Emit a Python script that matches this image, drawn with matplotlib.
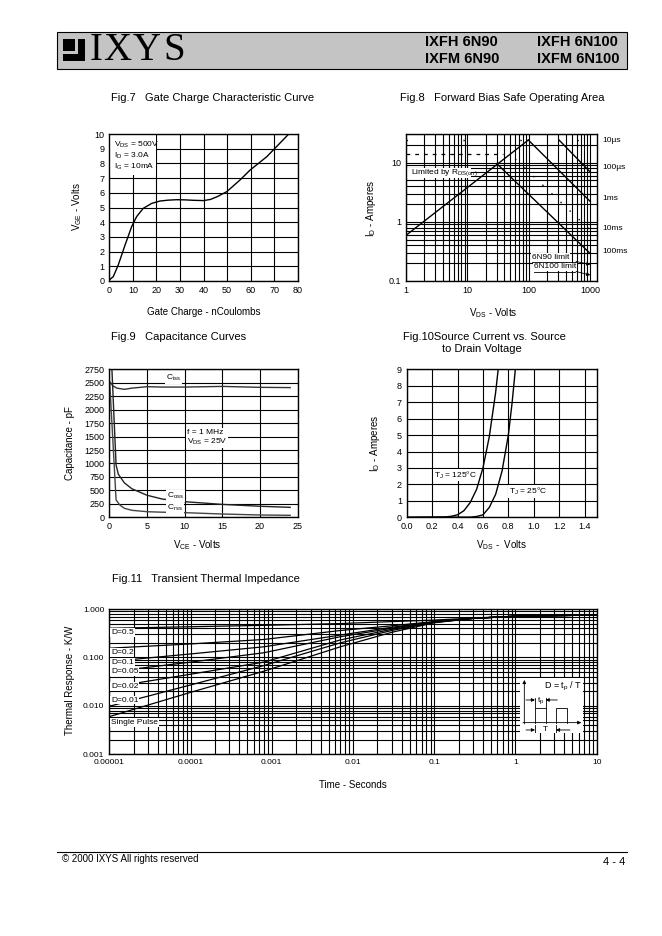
import matplotlib
matplotlib.use("Agg")
import matplotlib.pyplot as plt
import numpy as np
from matplotlib.lines import Line2D
from matplotlib.patches import Rectangle
from matplotlib.ticker import LogLocator, NullFormatter

W, H = 662, 936

plt.rcParams["font.family"] = ["Liberation Sans", "DejaVu Sans"]
plt.rcParams["mathtext.default"] = "regular"

# Fig.7 gate charge
qg_nc = [0, 1.7, 3.8, 6.7, 9.5, 11.6, 14.4, 18, 21.5, 25, 28.6, 32, 35.7, 40,
         43, 46, 49.9, 55.5, 59.8, 66.9, 76.2]
vge_v = [0.07, 0.3, 1.09, 2.45, 3.7, 4.38, 4.94, 5.28, 5.44, 5.5, 5.53, 5.52,
         5.49, 5.47, 5.55, 5.75, 6.08, 6.87, 7.55, 8.46, 10.0]

# Fig.8 safe operating area (V, A)
rds_v, rds_a = [1, 98], [0.59, 24]
lim_10us_v, lim_10us_a = [1, 1000], [24.5, 24.5]
lim_cont_v, lim_cont_a = [1, 38], [14.2, 14.2]
lim_100us_v, lim_100us_a = [310, 1000], [24, 6.9]
lim_1ms_v, lim_1ms_a = [98, 1000], [24, 2.2]
lim_10ms_v, lim_10ms_a = [60, 1000], [11.5, 0.72]
lim_100ms_v, lim_100ms_a = [30, 1000], [9.6, 0.29]
soa_labels = ["10µs", "100µs", "1ms", "10ms", "100ms"]

# Fig.9 capacitance (V, pF)
ciss_v = [0.05, 0.5, 1, 2, 3, 5, 7, 10, 15, 20, 24]
ciss_pf = [2520, 2440, 2400, 2378, 2400, 2427, 2420, 2420, 2432, 2415, 2410]
coss_v = [0.3, 0.9, 1.2, 2, 3, 5, 7, 10, 15, 20, 24]
coss_pf = [2900, 970, 800, 640, 530, 410, 340, 290, 240, 205, 185]
crss_v = [0.05, 0.9, 1.4, 2, 3, 5, 7, 10, 15, 20, 24]
crss_pf = [2520, 322, 228, 167, 130, 104, 95, 86, 61, 43, 37]

# Fig.10 source current vs source-drain voltage
vsd_125 = [0.0, 0.3, 0.35, 0.4, 0.45, 0.5, 0.55, 0.6, 0.65, 0.7, 0.72]
is_125 = [0.0, 0.02, 0.06, 0.15, 0.4, 0.9, 1.7, 3.0, 4.9, 7.6, 9.0]
vsd_25 = [0.0, 0.5, 0.55, 0.6, 0.65, 0.7, 0.75, 0.8, 0.83, 0.855]
is_25 = [0.0, 0.01, 0.05, 0.15, 0.6, 1.4, 2.8, 5.0, 7.0, 9.0]

# Fig.11 transient thermal impedance
t_s = [1e-5, 1e-4, 8e-4, 7e-3, 3e-2, 0.1, 0.3, 1, 10]
zth = {
    "D=0.5": [0.40, 0.43, 0.46, 0.50, 0.55, 0.59, 0.65, 0.71, 0.75],
    "D=0.2": [0.155, 0.19, 0.235, 0.36, 0.45, 0.55, 0.64, 0.71, 0.75],
    "D=0.1": [0.082, 0.118, 0.166, 0.29, 0.42, 0.54, 0.64, 0.71, 0.75],
    "D=0.05": [0.05, 0.08, 0.125, 0.268, 0.40, 0.54, 0.64, 0.71, 0.75],
    "D=0.02": [0.024, 0.045, 0.08, 0.23, 0.38, 0.53, 0.64, 0.71, 0.75],
    "D=0.01": [0.0098, 0.027, 0.068, 0.20, 0.36, 0.53, 0.64, 0.71, 0.75],
    "Single Pulse": [0.006, 0.019, 0.052, 0.166, 0.33, 0.52, 0.64, 0.71, 0.75],
}

fig = plt.figure(figsize=(W / 100, H / 100), dpi=100)


def box(left, top, right, bottom):
    return [left / W, 1 - bottom / H, (right - left) / W, (bottom - top) / H]


def ftext(px, py, s, size=7, ha="left", va="center", white=False, **kw):
    if white:
        kw["bbox"] = dict(fc="white", ec="none", pad=0.6)
    return fig.text(px / W, 1 - py / H, s, fontsize=size, ha=ha, va=va,
                    zorder=5, **kw)


def style(ax, size=6.5):
    ax.tick_params(which="both", length=0, labelsize=size, pad=3.5)
    ax.grid(True, which="both", color="black", lw=0.8)
    ax.set_axisbelow(True)
    for s in ax.spines.values():
        s.set_linewidth(1.0)


def logminor(axis):
    axis.set_minor_locator(LogLocator(base=10, subs=np.arange(2, 10), numticks=100))
    axis.set_minor_formatter(NullFormatter())


# header
fig.add_artist(Rectangle((57 / W, 1 - 69 / H), 570 / W, 37 / H,
                         transform=fig.transFigure, fc="#c4c4c4", ec="black", lw=0.8))
ix, iy, isz = 63, 39, 22
for u0, v0, u1, v1 in [(0, 0, 0.55, 0.55), (0.68, 0, 1, 1), (0, 0.68, 1, 1)]:
    fig.add_artist(Rectangle(((ix + u0 * isz) / W, 1 - (iy + v1 * isz) / H),
                             (u1 - u0) * isz / W, (v1 - v0) * isz / H,
                             transform=fig.transFigure, fc="black", ec="none"))
for px, letter in [(90, "I"), (103, "X"), (133, "Y"), (163, "S")]:
    ftext(px, 51, letter, size=28, family="Liberation Serif")
for px, name in [(425, "IXFH 6N90"), (537, "IXFH 6N100")]:
    ftext(px, 42, name, size=10.5, weight="bold")
for px, name in [(425, "IXFM 6N90"), (537, "IXFM 6N100")]:
    ftext(px, 59, name, size=10.5, weight="bold")

# Fig.7
ax7 = fig.add_axes(box(109.3, 134, 297.7, 281))
ax7.plot(qg_nc, vge_v, color="black", lw=1)
ax7.set_xlim(0, 80)
ax7.set_ylim(0, 10)
ax7.set_xticks(range(0, 81, 10))
ax7.set_yticks(range(0, 11))
style(ax7)
ax7.add_patch(Rectangle((0.005, 0.72), 0.245, 0.272, transform=ax7.transAxes,
                        fc="white", ec="none", zorder=1.5))
ftext(114, 145, "V$_{DS}$ = 500V", size=6)
ftext(114, 156, "I$_D$ = 3.0A", size=6)
ftext(114, 166.7, "I$_G$ = 10mA", size=6)
ftext(111, 98, "Fig.7   Gate Charge Characteristic Curve", size=8)
ftext(204, 312, "Gate Charge - nCoulombs", size=7, ha="center")
ftext(77, 207, "V$_{GE}$ - Volts", size=7, ha="center", rotation=90)

# Fig.8
ax8 = fig.add_axes(box(406, 134.3, 597.3, 281))
ax8.set_xscale("log")
ax8.set_yscale("log")
ax8.plot(rds_v, rds_a, color="black", lw=1)
ax8.plot(lim_10us_v, lim_10us_a, color="black", lw=1, ls=(0, (1, 40)))
ax8.plot(lim_cont_v, lim_cont_a, color="black", lw=0.9, ls=(0, (3, 4)))
ax8.plot(lim_100us_v, lim_100us_a, color="black", lw=1)
ax8.plot(lim_1ms_v, lim_1ms_a, color="black", lw=1)
ax8.plot(lim_10ms_v, lim_10ms_a, color="black", lw=1, ls=(0, (1, 8)))
ax8.plot(lim_100ms_v, lim_100ms_a, color="black", lw=1)
ax8.set_xlim(1, 1300)
ax8.set_ylim(0.1, 30)
ax8.set_xticks([1, 10, 100, 1000])
ax8.set_xticklabels(["1", "10", "100", "1000"])
ax8.set_yticks([0.1, 1, 10])
ax8.set_yticklabels(["0.1", "1", "10"])
logminor(ax8.xaxis)
logminor(ax8.yaxis)
style(ax8)
ax8.add_patch(Rectangle((0.002, 0.70), 0.34, 0.07, transform=ax8.transAxes,
                        fc="white", ec="none", zorder=2.5))
ftext(411, 172.5, "Limited by R$_{DS(on)}$", size=6)
for py, lab in zip([141, 167.7, 198, 229, 251.7], soa_labels):
    ftext(602, py, lab, size=6)
ftext(532, 257.5, "6N90 limit", size=6, white=True)
ftext(534, 267, "6N100 limit", size=6, white=True)
fig.add_artist(Line2D([532 / W, 576 / W], [1 - 261.5 / H] * 2, color="black", lw=0.6))
fig.add_artist(Line2D([534 / W, 575 / W], [1 - 271.5 / H] * 2, color="black", lw=0.6))
for y0, ya in [(261.5, 0.19), (271.5, 0.126)]:
    ax8.annotate("", xy=(1000, ya), xycoords="data",
                 xytext=(576 / W, 1 - y0 / H), textcoords="figure fraction",
                 arrowprops=dict(arrowstyle="-|>", lw=0.6, color="black",
                                 mutation_scale=5, shrinkA=0, shrinkB=0))
ftext(400, 98, "Fig.8   Forward Bias Safe Operating Area", size=8)
ftext(493, 313, "V$_{DS}$ - Volts", size=7, ha="center")
ftext(371, 208, "I$_D$ - Amperes", size=7, ha="center", rotation=90)

# Fig.9
ax9 = fig.add_axes(box(109.3, 369.3, 297.7, 517.3))
ax9.plot(ciss_v, ciss_pf, color="#333333", lw=1)
ax9.plot(coss_v, coss_pf, color="#222222", lw=1)
ax9.plot(crss_v, crss_pf, color="#444444", lw=1)
ax9.set_xlim(0, 25)
ax9.set_ylim(0, 2750)
ax9.set_xticks(range(0, 26, 5))
ax9.set_yticks(range(0, 2751, 250))
style(ax9)
ftext(166, 377.7, "C$_{iss}$", size=6, white=True)
ftext(186.7, 432.3, "f = 1 MHz", size=6, white=True)
ftext(186.7, 441.7, "V$_{DS}$ = 25V", size=6, white=True)
ftext(167, 495.7, "C$_{oss}$", size=6, white=True)
ftext(167, 507.7, "C$_{rss}$", size=6, white=True)
ftext(111, 336.7, "Fig.9   Capacitance Curves", size=8)
ftext(197, 545, "V$_{CE}$ - Volts", size=7, ha="center")
ftext(70, 443, "Capacitance - pF", size=7, ha="center", rotation=90)

# Fig.10
ax10 = fig.add_axes(box(406.7, 369.3, 597.3, 517.3))
ax10.plot(vsd_125, is_125, color="black", lw=1)
ax10.plot(vsd_25, is_25, color="black", lw=1)
ax10.set_xlim(0, 1.5)
ax10.set_ylim(0, 9)
ax10.set_xticks(np.arange(0, 1.41, 0.2))
ax10.set_xticklabels(["0.0", "0.2", "0.4", "0.6", "0.8", "1.0", "1.2", "1.4"])
ax10.set_yticks(range(0, 10))
style(ax10)
ftext(455.7, 475, "T$_J$ = 125°C", size=6, ha="center", white=True)
ftext(528.3, 491.7, "T$_J$ = 25°C", size=6, ha="center", white=True)
ftext(403.3, 336.7, "Fig.10Source Current vs. Source", size=8)
ftext(481.7, 349.3, "to Drain Voltage", size=8, ha="center")
ftext(501.7, 545, "V$_{DS}$ -  Volts", size=7, ha="center")
ftext(375, 443, "I$_D$ - Amperes", size=7, ha="center", rotation=90)

# Fig.11
ax11 = fig.add_axes(box(109.3, 609, 596.7, 754.3))
ax11.set_xscale("log")
ax11.set_yscale("log")
for name, z in zth.items():
    ax11.plot(t_s, z, color="black", lw=0.9)
ax11.set_xlim(1e-5, 10)
ax11.set_ylim(0.001, 1)
xt = [1e-5, 1e-4, 1e-3, 1e-2, 1e-1, 1, 10]
ax11.set_xticks(xt)
ax11.set_xticklabels(["0.00001", "0.0001", "0.001", "0.01", "0.1", "1", "10"])
ax11.set_yticks([0.001, 0.01, 0.1, 1])
ax11.set_yticklabels(["0.001", "0.010", "0.100", "1.000"])
logminor(ax11.xaxis)
logminor(ax11.yaxis)
style(ax11, size=6)
for py, name in zip([632.7, 652.7, 662.7, 671.7, 686.7, 700, 722.7], zth):
    ftext(111, py, name, size=6, white=True)

axi = fig.add_axes(box(520, 678.3, 583.3, 733.3))
axi.set_xlim(540, 730)
axi.set_ylim(490, 325)
axi.set_facecolor("white")
axi.set_xticks([])
axi.set_yticks([])
for s in axi.spines.values():
    s.set_visible(False)
arrow = dict(arrowstyle="-|>", lw=0.6, color="black", mutation_scale=5,
             shrinkA=0, shrinkB=0)
axi.annotate("", xy=(553, 330), xytext=(553, 462), arrowprops=arrow)
axi.annotate("", xy=(724, 458), xytext=(549, 458), arrowprops=arrow)
for a, b in [(585, 617), (648, 680)]:
    axi.plot([a, a, b, b], [458, 413, 413, 458], color="black", lw=0.6)
for x in (585, 617):
    axi.plot([x, x], [383, 413], color="black", lw=0.6)
for x in (585, 648):
    axi.plot([x, x], [465, 492], color="black", lw=0.6)
axi.annotate("", xy=(585, 390), xytext=(558, 390), arrowprops=arrow)
axi.annotate("", xy=(617, 390), xytext=(652, 390), arrowprops=arrow)
axi.annotate("", xy=(585, 480), xytext=(558, 480), arrowprops=arrow)
axi.annotate("", xy=(648, 480), xytext=(690, 480), arrowprops=arrow)
axi.text(601, 392, "t$_p$", fontsize=6, ha="center", va="center")
axi.text(616, 480, "T", fontsize=6, ha="center", va="center")
axi.text(668, 350, "D = t$_p$ / T", fontsize=6.5, ha="center", va="center")

ftext(112, 579.3, "Fig.11   Transient Thermal Impedance", size=8)
ftext(353, 785, "Time - Seconds", size=7, ha="center")
ftext(70, 680, "Thermal Response - K/W", size=7, ha="center", rotation=90)

# footer
fig.add_artist(Line2D([57 / W, 627 / W], [1 - 852 / H] * 2, color="black", lw=0.8))
ftext(62, 859, "© 2000 IXYS All rights reserved", size=7)
ftext(625, 862, "4 - 4", size=8, ha="right")

fig.savefig("out.png", dpi=100)
